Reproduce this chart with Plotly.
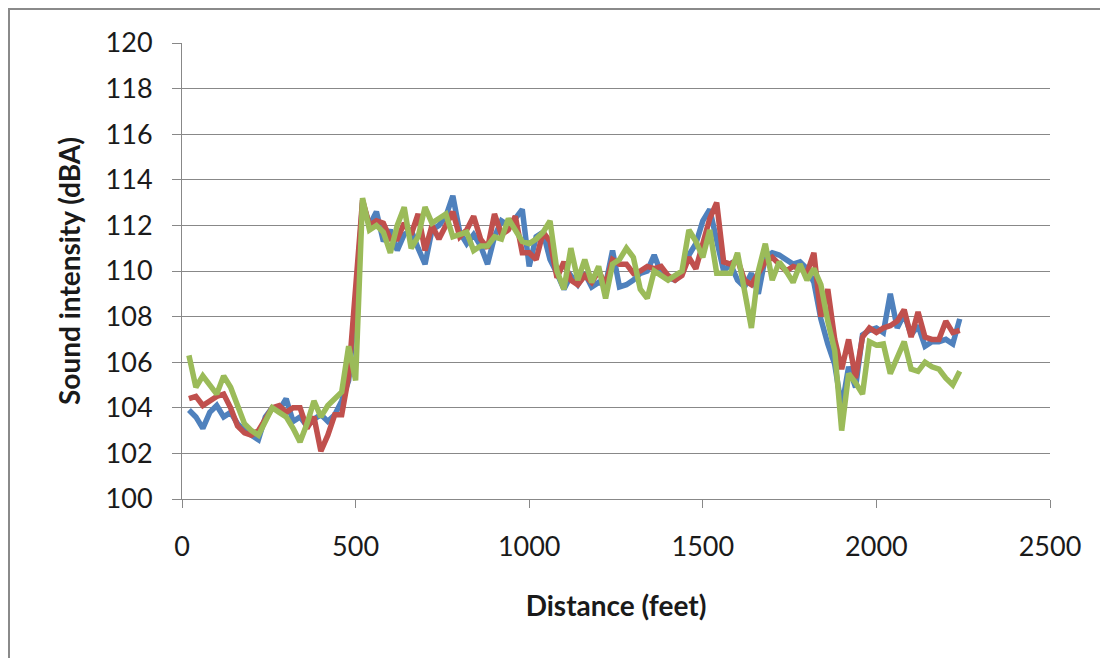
import plotly.graph_objects as go

distance = [20, 40, 60, 80, 100, 120, 140, 160, 180, 200, 220, 240, 260, 280, 300, 320, 340, 360, 380, 400,
            420, 440, 460, 480, 500, 520, 540, 560, 580, 600, 620, 640, 660, 680, 700, 720, 740, 760, 780, 800,
            820, 840, 860, 880, 900, 920, 940, 960, 980, 1000, 1020, 1040, 1060, 1080, 1100, 1120, 1140, 1160, 1180, 1200,
            1220, 1240, 1260, 1280, 1300, 1320, 1340, 1360, 1380, 1400, 1420, 1440, 1460, 1480, 1500, 1520, 1540, 1560, 1580, 1600,
            1620, 1640, 1660, 1680, 1700, 1720, 1740, 1760, 1780, 1800, 1820, 1840, 1860, 1880, 1900, 1920, 1940, 1960, 1980, 2000,
            2020, 2040, 2060, 2080, 2100, 2120, 2140, 2160, 2180, 2200, 2220, 2240]

blue = [103.9, 103.6, 103.1, 103.8, 104.1, 103.6, 103.8, 103.3, 103.0, 102.8, 102.6, 103.6, 104.0, 103.9, 104.4, 103.4, 103.6, 103.2, 103.5, 103.7,
        103.4, 103.7, 104.3, 105.2, 108.5, 113.0, 112.0, 112.6, 111.3, 111.8, 110.9, 111.6, 111.8, 111.0, 110.3, 111.8, 112.0, 112.4, 113.3, 111.7,
        111.2, 111.6, 111.1, 110.3, 111.5, 112.2, 112.0, 112.3, 112.7, 110.2, 111.5, 111.7, 110.5, 109.9, 109.2, 109.8, 109.4, 109.9, 109.3, 109.5,
        109.4, 110.9, 109.3, 109.4, 109.6, 109.9, 110.0, 110.7, 109.9, 109.7, 109.6, 109.9, 110.7, 111.2, 112.2, 112.7, 111.3, 110.0, 110.3, 109.6,
        109.3, 109.9, 109.0, 110.6, 110.8, 110.7, 110.5, 110.3, 110.4, 110.1, 109.5, 107.9, 106.8, 105.9, 104.0, 105.8, 104.9, 107.2, 107.4, 107.5,
        107.3, 109.0, 107.5, 108.1, 107.2, 107.6, 106.7, 106.9, 106.9, 107.0, 106.8, 107.9]

red = [104.4, 104.5, 104.1, 104.3, 104.5, 104.6, 104.0, 103.2, 102.9, 102.8, 103.0, 103.5, 104.0, 104.1, 103.8, 104.0, 104.0, 103.1, 103.6, 102.1,
       102.8, 103.7, 103.7, 105.4, 109.0, 113.1, 112.0, 112.2, 112.1, 111.4, 111.4, 112.1, 111.6, 112.5, 110.9, 112.0, 111.4, 112.0, 112.6, 111.5,
       111.8, 112.4, 111.4, 111.0, 112.5, 111.6, 111.8, 112.4, 110.8, 110.8, 110.5, 111.7, 111.3, 109.7, 110.4, 109.6, 109.4, 109.8, 109.5, 110.0,
       109.4, 110.5, 110.3, 110.3, 109.9, 110.0, 110.2, 110.1, 110.2, 109.8, 109.6, 109.8, 110.6, 110.1, 111.3, 112.3, 113.0, 110.4, 110.3, 110.5,
       109.6, 109.4, 109.9, 110.4, 110.6, 110.3, 110.0, 110.2, 110.1, 109.9, 110.8, 108.0, 109.2, 107.0, 105.7, 107.0, 105.3, 107.1, 107.5, 107.3,
       107.5, 107.6, 107.8, 108.3, 107.1, 108.2, 107.1, 107.0, 107.0, 107.8, 107.3, 107.4]

green = [106.3, 104.9, 105.4, 105.0, 104.6, 105.4, 104.9, 104.1, 103.3, 103.0, 102.8, 103.4, 104.0, 103.8, 103.6, 103.1, 102.5, 103.3, 104.3, 103.6,
         104.1, 104.4, 104.7, 106.7, 105.2, 113.2, 111.8, 112.0, 111.7, 110.8, 112.0, 112.8, 111.0, 111.5, 112.8, 112.1, 112.3, 112.5, 111.5, 111.6,
         111.7, 110.9, 111.1, 111.1, 111.5, 111.4, 112.3, 111.8, 111.3, 111.2, 111.4, 111.7, 112.2, 110.0, 109.2, 111.0, 109.6, 110.5, 109.5, 110.2,
         108.8, 110.3, 110.5, 111.0, 110.6, 109.2, 108.8, 110.0, 109.8, 109.6, 109.8, 110.0, 111.8, 111.3, 110.6, 111.8, 109.9, 109.9, 109.9, 110.8,
         109.3, 107.5, 110.0, 111.2, 109.6, 110.4, 110.0, 109.5, 110.3, 109.6, 110.1, 109.4, 107.8, 106.5, 103.0, 105.5, 105.1, 104.6, 106.9, 106.75,
         106.8, 105.5, 106.2, 106.9, 105.7, 105.6, 106.0, 105.8, 105.7, 105.3, 105.0, 105.6]

x_ticks = [0, 500, 1000, 1500, 2000, 2500]
y_ticks = [100, 102, 104, 106, 108, 110, 112, 114, 116, 118, 120]

FONT = "Lato"
GRID = "#888888"
TXT = "#1a1a1a"

fig = go.Figure()
for name, vals, col in [("Series1", blue, "#4F81BD"), ("Series2", red, "#C0504D"), ("Series3", green, "#9BBB59")]:
    fig.add_trace(go.Scatter(x=distance, y=vals, mode="lines", name=name,
                             line=dict(color=col, width=5.5)))

W, H = 1100, 650
L, T, R, B = 174, 35, 58, 159
pw, ph = W - L - R, H - T - B

fig.update_layout(
    width=W, height=H,
    margin=dict(l=L, r=R, t=T, b=B),
    paper_bgcolor="white", plot_bgcolor="white",
    showlegend=False,
    font=dict(family=FONT, size=26, color=TXT),
    xaxis=dict(range=[0, 2500], tickvals=x_ticks, showgrid=False, zeroline=False,
               showline=True, linecolor=GRID, linewidth=1,
               ticks="outside", ticklen=8, tickcolor=GRID, tickwidth=1,
               ticklabelstandoff=16,
               tickfont=dict(family=FONT, size=27, color=TXT),
               title=dict(text="<b>Distance (feet)</b>", font=dict(family=FONT, size=28, color=TXT), standoff=34)),
    yaxis=dict(range=[100, 120], tickvals=y_ticks, showgrid=True, gridcolor=GRID, gridwidth=1,
               zeroline=False, showline=True, linecolor=GRID, linewidth=1,
               ticks="outside", ticklen=9, tickcolor=GRID, tickwidth=1,
               ticklabelstandoff=14,
               tickfont=dict(family=FONT, size=27, color=TXT),
               title=dict(text="<b>Sound intensity (dBA)</b>", font=dict(family=FONT, size=28, color=TXT), standoff=16)),
    shapes=[dict(type="rect", xref="paper", yref="paper",
                 x0=(1 - L) / pw, x1=(W + 50 - L) / pw,
                 y0=(H - B - 720) / ph, y1=(H - B - 1) / ph,
                 line=dict(color="#8a8a8a", width=2), fillcolor="rgba(0,0,0,0)", layer="below")],
)

fig.write_html("out.html")
